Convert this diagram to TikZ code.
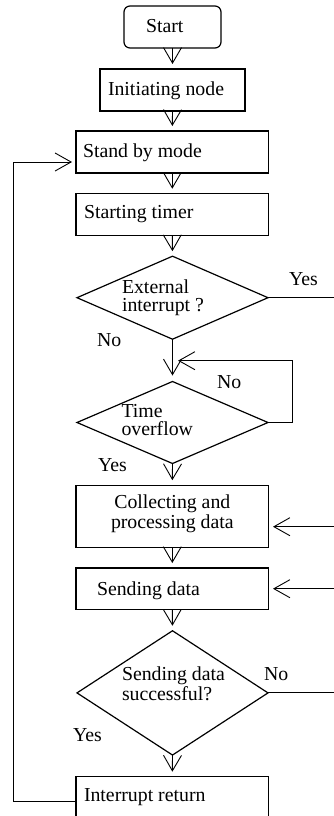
\documentclass[tikz,border=0pt]{standalone}
\usepackage{fontspec}
\setmainfont{Liberation Serif}
\usetikzlibrary{shapes.geometric,arrows.meta}
\begin{document}
\begin{tikzpicture}[x=1pt,y=-1pt,
  box/.style={draw, line width=1.2pt, rectangle, minimum width=192.5pt, inner sep=0pt, outer sep=0pt},
  dia/.style={draw, line width=1.2pt, diamond, minimum width=191pt, inner sep=0pt, outer sep=0pt},
  txt/.style={anchor=base west, inner sep=0pt, outer sep=0pt, font=\fontsize{19.8}{20}\selectfont},
  txtt/.style={anchor=base west, inner sep=0pt, outer sep=0pt, align=left, font=\fontsize{19.8}{18}\selectfont},
  wire/.style={line width=0.9pt},
  conn/.style={line width=0.9pt, -{Straight Barb[length=15.5pt,width=18pt,line width=0.9pt]}, shorten >=5pt},
  connb/.style={line width=0.9pt, -{Straight Barb[length=16pt,width=18pt,line width=0.9pt]}}
]
\useasboundingbox (0,0) rectangle (334,816);
\clip (0,0) rectangle (334,816);

% shapes
\node[box, rounded corners=6pt, minimum width=97pt, minimum height=42pt] (start) at (172.5,27) {};
\node[box, minimum width=145pt, minimum height=42pt] (init) at (172.5,90) {};
\node[box, minimum height=42pt] (sb) at (172.3,152) {};
\node[box, minimum height=41.5pt] (st) at (172.3,214.5) {};
\node[dia, minimum height=83pt] (d1) at (172.5,297.7) {};
\node[dia, minimum height=82pt] (d2) at (172.5,422.5) {};
\node[box, minimum height=62pt] (coll) at (172.3,516.2) {};
\node[box, minimum height=41.3pt] (send) at (172.3,588.7) {};
\node[dia, minimum height=124.3pt] (d3) at (172.5,692.9) {};
\node[box, minimum height=42pt] (ir) at (172.3,797.7) {};

% texts (multi-line nodes: base = baseline of last line)
\node[txt] (tstart) at (146,32.5) {Start};
\node[txt] (tinit) at (108,95) {Initiating node};
\node[txt] (tsb) at (83,157) {Stand by mode};
\node[txt] (tst) at (84,218) {Starting timer};
\node[txtt] (td1) at (122,311) {External\\interrupt ?};
\node[txtt] (td2) at (121.5,435.5) {Time\\overflow};
\node[txtt, align=center] (tcoll) at (111,528) {Collecting and\\processing data};
\node[txtt, font=\fontsize{19.8}{17}\selectfont] (td3) at (122,700) {Sending data\\successful?};
\node[txt] (tsend) at (97,595) {Sending data};
\node[txt] (tir) at (84,801.7) {Interrupt return};

% labels
\node[txt] (l1) at (289,285) {Yes};
\node[txt] (l2) at (97,346.7) {No};
\node[txt] (l3) at (217,388) {No};
\node[txt] (l4) at (98,471.7) {Yes};
\node[txt] (l5) at (264,680) {No};
\node[txt] (l6) at (73,741.7) {Yes};

% coordinates
\coordinate (e1) at (334,297.7);
\coordinate (e2) at (334,526.7);
\coordinate (e3) at (334,588.7);
\coordinate (e4) at (334,692.9);
\coordinate (lp1) at (292,422.5);
\coordinate (lp2) at (292,360.7);
\coordinate (lp3) at (178,360.7);
\coordinate (ra) at (273,526.7);
\coordinate (rb) at (273,588.7);
\coordinate (bl1) at (13,801.3);
\coordinate (bl2) at (13,162);
\coordinate (sbin) at (72,162);

% main flow
\draw[conn] (start.south) -- (init.north);
\draw[conn] (init.south) -- (sb.north);
\draw[conn] (sb.south) -- (st.north);
\draw[conn] (st.south) -- (d1.north);
\draw[conn, shorten >=6pt] (d1.south) -- (d2.north);
\draw[conn] (d2.south) -- (coll.north);
\draw[conn] (coll.south) -- (send.north);
\draw[conn] (send.south) -- (d3.north);
\draw[conn] (d3.south) -- (ir.north);

% loops and side lines
\draw[wire] (d1.east) -- (e1);
\draw[wire] (d3.east) -- (e4);
\draw[connb] (d2.east) -- (lp1) -- (lp2) -- (lp3);
\draw[connb] (e2) -- (ra);
\draw[connb] (e3) -- (rb);
\draw[connb] (ir.west |- bl1) -- (bl1) -- (bl2) -- (sbin);
\end{tikzpicture}
\end{document}
